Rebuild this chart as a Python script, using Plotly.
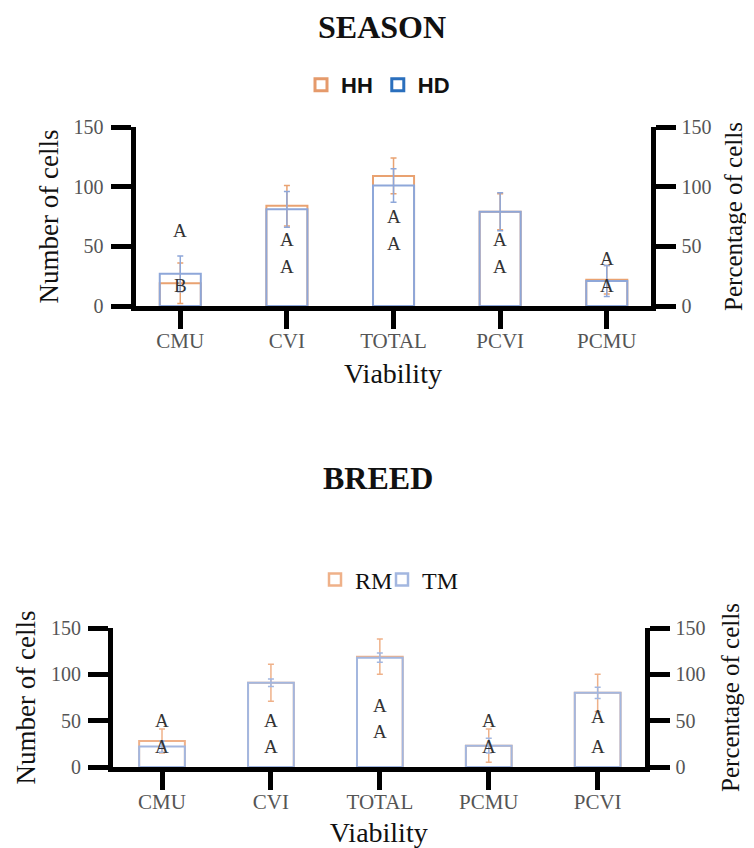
import plotly.graph_objects as go

# ---------------- data ----------------
season_categories = ["CMU", "CVI", "TOTAL", "PCVI", "PCMU"]
hh_values = [19, 84, 109, 79, 22]
hh_errors = [17, 17, 15, 15, 12]
hd_values = [27, 81, 101, 79, 21]
hd_errors = [15, 15, 14, 16, 13]
season_letters_upper = ["A", "A", "A", "A", "A"]
season_letters_upper_y = [63, 56, 75, 56, 40]
season_letters_lower = ["B", "A", "A", "A", "A"]
season_letters_lower_y = [17, 33, 52, 33, 17]

breed_categories = ["CMU", "CVI", "TOTAL", "PCMU", "PCVI"]
rm_values = [28, 91, 119, 23, 80]
rm_errors = [13, 20, 19, 18, 20]
tm_values = [22, 91, 118, 23, 80]
tm_errors = [6, 4, 5, 8, 6]
breed_letters_upper = ["A", "A", "A", "A", "A"]
breed_letters_upper_y = [50, 50, 66, 50, 54]
breed_letters_lower = ["A", "A", "A", "A", "A"]
breed_letters_lower_y = [22, 22, 38, 22, 22]

y_ticks = [0, 50, 100, 150]

# ---------------- styles ----------------
OFF = 8                      # page body margin in the browser
W, H = 754 - OFF, 848 - OFF
SERIF = "Liberation Serif"
SANS = "Liberation Sans"
C_HH = "#E9A271"
C_HD = "#8EA7D9"
C_HH_LEG = "#E59A6B"
C_HD_LEG = "#2A6FBD"
C_RM = "#EFB189"
C_TM = "#A3B7E0"
CLEAR = "rgba(0,0,0,0)"


def px_x(p):
    return (p - OFF) / W


def px_y(p):
    return 1 - (p - OFF) / H


fig = go.Figure()


def add_bars(cats, vals, errs, color, name, xa, ya, bw):
    fig.add_trace(go.Bar(
        x=cats, y=vals, name=name, xaxis=xa, yaxis=ya, width=bw,
        marker=dict(color=CLEAR, line=dict(color=color, width=2)),
        error_y=dict(type="data", array=errs, visible=True, color=color,
                     thickness=1.5, width=3),
        showlegend=False,
    ))


add_bars(season_categories, hh_values, hh_errors, C_HH, "HH", "x", "y", 0.385)
add_bars(season_categories, hd_values, hd_errors, C_HD, "HD", "x", "y", 0.385)
add_bars(breed_categories, rm_values, rm_errors, C_RM, "RM", "x2", "y3", 0.42)
add_bars(breed_categories, tm_values, tm_errors, C_TM, "TM", "x2", "y3", 0.42)

# legend entries (they also bring the right-hand axes to life)
for name, col, ya, xa, leg in [("HH", C_HH_LEG, "y2", "x", "legend"),
                                ("HD", C_HD_LEG, "y2", "x", "legend"),
                                ("RM", C_RM, "y4", "x2", "legend2"),
                                ("TM", C_TM, "y4", "x2", "legend3")]:
    cats = season_categories if xa == "x" else breed_categories
    fig.add_trace(go.Bar(
        x=cats, y=[None] * len(cats), name=name, xaxis=xa, yaxis=ya,
        marker=dict(color=CLEAR, line=dict(color=col, width=3 if leg == "legend" else 2.5)),
        showlegend=True, legend=leg, hoverinfo="skip",
    ))

annotations = []
letter_font = dict(family=SERIF, size=19, color="#333")
for cats, ups, upy, lows, lowy, xr, yr in [
    (season_categories, season_letters_upper, season_letters_upper_y,
     season_letters_lower, season_letters_lower_y, "x", "y"),
    (breed_categories, breed_letters_upper, breed_letters_upper_y,
     breed_letters_lower, breed_letters_lower_y, "x2", "y3"),
]:
    for c, t, yv in zip(cats, ups, upy):
        annotations.append(dict(x=c, y=yv, xref=xr, yref=yr, text=t, showarrow=False,
                                font=letter_font))
    for c, t, yv in zip(cats, lows, lowy):
        annotations.append(dict(x=c, y=yv, xref=xr, yref=yr, text=t, showarrow=False,
                                font=letter_font))

annotations.append(dict(x=px_x(382), y=px_y(27), xref="paper", yref="paper",
                        xanchor="center", yanchor="middle",
                        text="<b>SEASON</b>", showarrow=False,
                        font=dict(family=SERIF, size=32, color="#111")))
annotations.append(dict(x=px_x(378), y=px_y(478), xref="paper", yref="paper",
                        xanchor="center", yanchor="middle",
                        text="<b>BREED</b>", showarrow=False,
                        font=dict(family=SERIF, size=32, color="#111")))

ytickfont = dict(family=SERIF, size=20, color="#555")
xtickfont = dict(family=SERIF, size=21, color="#555")

common_axis = dict(showline=True, linewidth=5, linecolor="black", ticks="outside",
                   tickwidth=5, tickcolor="black", showgrid=False, zeroline=False,
                   automargin=False)


def xaxis(domain, anchor, cats, rng):
    return dict(common_axis, domain=domain, anchor=anchor, type="category",
                categoryorder="array", categoryarray=cats, tickfont=xtickfont,
                range=rng, ticklen=18, ticklabelstandoff=-6,
                title=dict(text="Viability",
                           font=dict(family=SERIF, size=28, color="#111"), standoff=13))


def yaxis(domain, anchor, title, side, lab_off, tit_off, tsize, overlay=None):
    d = dict(common_axis, domain=domain, anchor=anchor, range=[0, 150],
             tickvals=y_ticks, ticklen=20, side=side, ticklabelstandoff=lab_off,
             tickfont=ytickfont,
             title=dict(text=title, font=dict(family=SERIF, size=tsize, color="#111"),
                        standoff=tit_off))
    if overlay:
        d["overlaying"] = overlay
    return d


top_x = [px_x(135.5), px_x(650.5)]
top_y = [px_y(306), px_y(127)]
bot_x = [px_x(113), px_x(644.5)]
bot_y = [px_y(767), px_y(628)]

breed_legend_font = dict(family=SERIF, size=24, color="#111")

fig.update_layout(
    width=W, height=H, template="none",
    margin=dict(l=0, r=0, t=0, b=0),
    paper_bgcolor="white", plot_bgcolor="rgba(0,0,0,0)",
    barmode="overlay",
    xaxis=xaxis(top_x, "y", season_categories, [-0.42, 4.41]),
    yaxis=yaxis(top_y, "x", "Number of cells", "left", 3, 9, 27),
    yaxis2=yaxis(top_y, "x", "Percentage of cells", "right", 2, 15, 25, "y"),
    xaxis2=xaxis(bot_x, "y3", breed_categories, [-0.45, 4.43]),
    yaxis3=yaxis(bot_y, "x2", "Number of cells", "left", 3, 9, 27),
    yaxis4=yaxis(bot_y, "x2", "Percentage of cells", "right", 2, 18, 25, "y3"),
    legend=dict(orientation="h", x=px_x(378), y=px_y(85), xanchor="center", yanchor="middle",
                font=dict(family=SANS, size=22, color="#111", weight="bold"), bgcolor=CLEAR),
    legend2=dict(orientation="h", x=px_x(315), y=px_y(580), xanchor="left", yanchor="middle",
                 font=breed_legend_font, bgcolor=CLEAR),
    legend3=dict(orientation="h", x=px_x(382), y=px_y(580), xanchor="left", yanchor="middle",
                 font=breed_legend_font, bgcolor=CLEAR),
    annotations=annotations,
    showlegend=True,
)

fig.write_html("out.html")
